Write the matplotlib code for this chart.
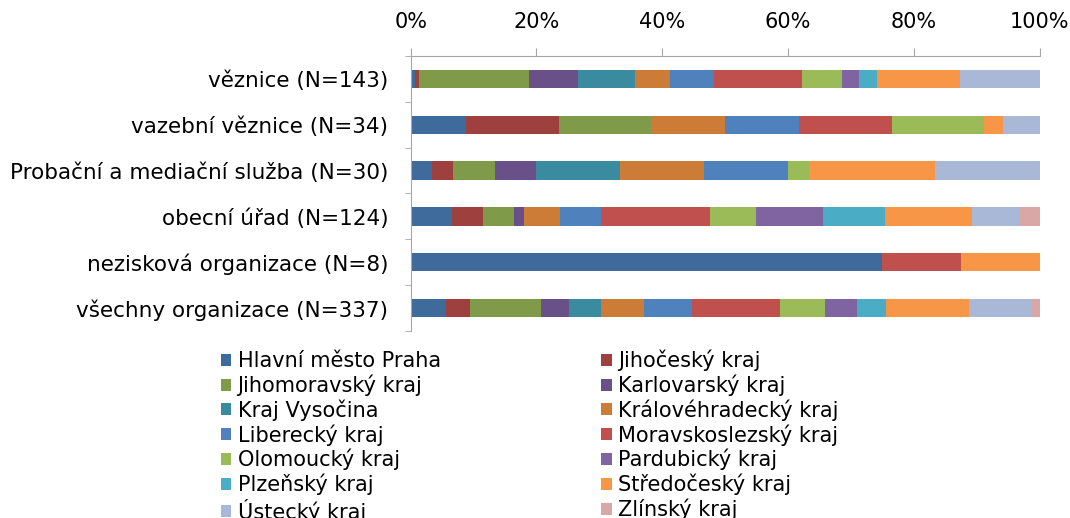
import matplotlib
matplotlib.use("Agg")
import matplotlib.pyplot as plt
from matplotlib.patches import Patch
import numpy as np

categories = [
    "věznice (N=143)",
    "vazební věznice (N=34)",
    "Probační a mediační služba (N=30)",
    "obecní úřad (N=124)",
    "nezisková organizace (N=8)",
    "všechny organizace (N=337)",
]

regions = [
    "Hlavní město Praha", "Jihočeský kraj", "Jihomoravský kraj", "Karlovarský kraj",
    "Kraj Vysočina", "Královéhradecký kraj", "Liberecký kraj", "Moravskoslezský kraj",
    "Olomoucký kraj", "Pardubický kraj", "Plzeňský kraj", "Středočeský kraj",
    "Ústecký kraj", "Zlínský kraj",
]

veznice = [1, 1, 25, 11, 13, 8, 10, 20, 9, 4, 4, 19, 18, 0]
vazebni = [3, 5, 5, 0, 0, 4, 4, 5, 5, 0, 0, 1, 2, 0]
probacni = [1, 1, 2, 2, 4, 4, 4, 0, 1, 0, 0, 6, 5, 0]
obecni = [8, 6, 6, 2, 0, 7, 8, 21, 9, 13, 12, 17, 9, 4]
neziskova = [6, 0, 0, 0, 0, 0, 0, 1, 0, 0, 0, 1, 0, 0]
vsechny = [19, 13, 38, 15, 17, 23, 26, 47, 24, 17, 16, 44, 34, 4]

xticks = [0, 20, 40, 60, 80, 100]
xticklabels = ["0%", "20%", "40%", "60%", "80%", "100%"]

colors = [
    "#3E6A9C", "#9E413E", "#7F9A48", "#6A5088", "#3B8BA0", "#CD7C38",
    "#4F81BD", "#C0504D", "#9BBB59", "#8064A2", "#4BACC6", "#F79646",
    "#A9B8D6", "#D9A7A6",
]

data = np.array([veznice, vazebni, probacni, obecni, neziskova, vsechny], dtype=float)
pct = data / data.sum(axis=1, keepdims=True) * 100

FS = 15
plt.rcParams["font.family"] = ["DejaVu Sans"]
fig = plt.figure(figsize=(10.70, 5.18), dpi=100)
ax = fig.add_axes([0.3838, 0.361, 0.9715 - 0.3838, 0.892 - 0.361])

y = np.arange(len(categories))
left = np.zeros(len(categories))
handles = []
for j, reg in enumerate(regions):
    ax.barh(y, pct[:, j], left=left, height=0.4, color=colors[j], edgecolor="none")
    left += pct[:, j]
    handles.append(Patch(facecolor=colors[j], edgecolor="none", label=reg))

ax.set_xlim(0, 100)
ax.set_ylim(len(categories) - 0.5, -0.5)
ax.xaxis.tick_top()
ax.set_xticks(xticks)
ax.set_xticklabels(xticklabels, fontsize=FS)
ax.set_yticks(y)
ax.set_yticklabels(categories, fontsize=15.5)
ax.set_yticks(np.arange(-0.5, len(categories), 1), minor=True)
ax.tick_params(axis="y", which="major", length=0, pad=16)
ax.tick_params(axis="y", which="minor", length=4, color="#A6A6A6")
ax.tick_params(axis="x", which="major", length=6, color="#A6A6A6", pad=11, direction="out")
for s in ["right", "bottom"]:
    ax.spines[s].set_visible(False)
for s in ["left", "top"]:
    ax.spines[s].set_color("#A6A6A6")

order = [0, 2, 4, 6, 8, 10, 12, 1, 3, 5, 7, 9, 11, 13]
leg = fig.legend([handles[i] for i in order], [regions[i] for i in order],
                 ncol=2, loc="upper left", bbox_to_anchor=(0.2065, 0.325),
                 frameon=False, fontsize=FS, handlelength=0.5, handleheight=0.5,
                 handletextpad=0.3, labelspacing=0.16, columnspacing=7.7,
                 borderaxespad=0, borderpad=0)

fig.savefig("out.png", dpi=100)
